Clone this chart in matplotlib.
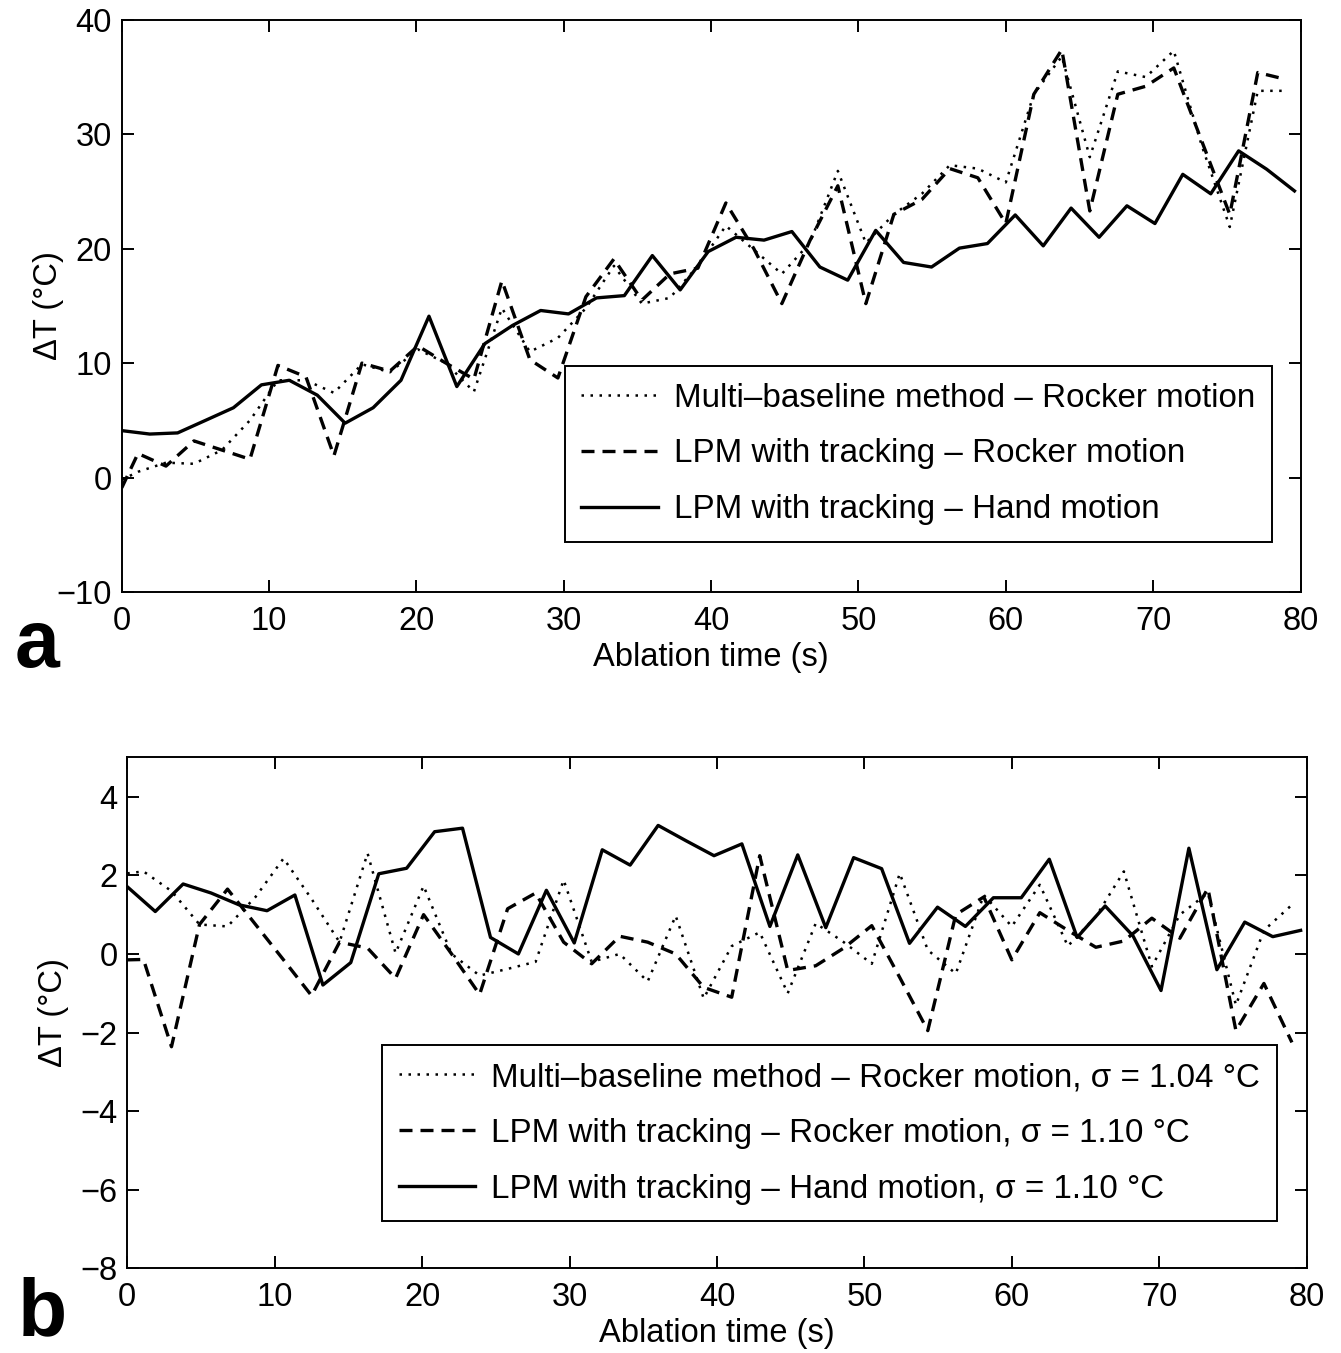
import matplotlib
matplotlib.use("Agg")
import matplotlib.pyplot as plt

plt.rcParams['font.family'] = ['Liberation Sans', 'DejaVu Sans']
plt.rcParams['axes.unicode_minus'] = True

# sample times (s)
hand_time = [0, 1.9, 3.79, 5.69, 7.58, 9.48, 11.37, 13.27, 15.16, 17.06,
             18.95, 20.85, 22.74, 24.64, 26.53, 28.43, 30.32, 32.22, 34.11, 36.01,
             37.9, 39.8, 41.69, 43.59, 45.48, 47.38, 49.27, 51.17, 53.06, 54.96,
             56.85, 58.75, 60.64, 62.54, 64.43, 66.33, 68.22, 70.12, 72.01, 73.91,
             75.8, 77.7, 79.59]
rocker_time = [0, 1.1, 3.0, 4.9, 6.8, 8.7, 10.6, 12.5, 14.4, 16.3,
               18.2, 20.1, 22.0, 23.9, 25.8, 27.7, 29.6, 31.5, 33.4, 35.3,
               37.2, 39.1, 41.0, 42.9, 44.8, 46.7, 48.6, 50.5, 52.4, 54.3,
               56.2, 58.1, 60.0, 61.9, 63.8, 65.7, 67.6, 69.5, 71.4, 73.3,
               75.2, 77.1, 79.0]

# panel a: temperature rise during ablation
multi_rocker_a = [-0.2, 0.5, 1.3, 1.2, 2.4, 5.0, 8.5, 8.5, 7.4, 9.9,
                  9.2, 11.2, 10.0, 7.5, 14.8, 11.0, 12.2, 14.8, 18.5, 15.2,
                  15.7, 18.5, 22.0, 19.9, 17.8, 20.5, 26.8, 20.5, 23.0, 24.8,
                  27.3, 27.0, 25.8, 33.5, 36.8, 28.0, 35.5, 35.0, 37.3, 29.0,
                  21.9, 33.8, 33.8]
lpm_rocker_a = [-0.9, 2.1, 1.0, 3.2, 2.4, 1.6, 9.8, 8.8, 1.9, 10.0,
                9.3, 11.5, 10.0, 8.6, 17.2, 10.3, 8.7, 15.8, 19.1, 15.5,
                17.8, 18.3, 24.0, 20.0, 15.2, 20.7, 25.5, 15.2, 23.0, 24.3,
                27.0, 26.2, 22.2, 33.5, 37.4, 23.3, 33.5, 34.2, 35.8, 29.4,
                23.0, 35.4, 34.8]
lpm_hand_a = [4.1, 3.8, 3.9, 5.0, 6.1, 8.1, 8.5, 7.2, 4.75, 6.1,
              8.5, 14.1, 7.95, 11.7, 13.3, 14.6, 14.3, 15.7, 15.9, 19.4,
              16.4, 19.75, 21.0, 20.75, 21.5, 18.4, 17.25, 21.6, 18.8, 18.4,
              20.05, 20.45, 22.95, 20.25, 23.55, 21.0, 23.75, 22.2, 26.5, 24.8,
              28.55, 26.95, 25.05]

# panel b: no heating
multi_rocker_b = [2.05, 2.1, 1.6, 0.75, 0.7, 1.45, 2.43, 1.4, 0.3, 2.56,
                  0.02, 1.73, 0.0, -0.55, -0.38, -0.2, 1.88, -0.2, 0.0, -0.7,
                  0.97, -1.13, 0.2, 0.55, -1.0, 0.78, 0.3, -0.25, 2.05, 0.1,
                  -0.5, 1.5, 0.7, 1.76, 0.2, 0.95, 2.1, -0.32, 1.0, 1.55,
                  -1.3, 0.6, 1.25]
lpm_rocker_b = [-0.15, -0.14, -2.36, 0.75, 1.65, 0.75, -0.15, -1.06, 0.3, 0.15,
                -0.62, 1.0, 0.0, -1.03, 1.15, 1.55, 0.3, -0.25, 0.45, 0.3,
                0.0, -0.85, -1.1, 2.5, -0.42, -0.3, 0.15, 0.72, -0.6, -1.95,
                1.0, 1.45, -0.15, 1.05, 0.6, 0.17, 0.33, 0.91, 0.4, 1.67,
                -1.95, -0.75, -2.25]
lpm_hand_b = [1.71, 1.08, 1.78, 1.55, 1.25, 1.1, 1.5, -0.79, -0.22, 2.04,
              2.18, 3.11, 3.2, 0.42, 0.0, 1.62, 0.28, 2.65, 2.26, 3.27,
              2.88, 2.5, 2.8, 0.7, 2.52, 0.67, 2.45, 2.17, 0.27, 1.19,
              0.7, 1.43, 1.43, 2.41, 0.42, 1.22, 0.46, -0.93, 2.69, -0.4,
              0.81, 0.44, 0.6]

labels_a = ['Multi\u2013baseline method \u2013 Rocker motion',
            'LPM with tracking \u2013 Rocker motion',
            'LPM with tracking \u2013 Hand motion']
labels_b = ['Multi\u2013baseline method \u2013 Rocker motion, \u03c3 = 1.04 \u00b0C',
            'LPM with tracking \u2013 Rocker motion, \u03c3 = 1.10 \u00b0C',
            'LPM with tracking \u2013 Hand motion, \u03c3 = 1.10 \u00b0C']

FS = 23.5
FS_LEG = 23.9
dotted = dict(color='black', lw=1.8, linestyle=(0, (1.0, 2.6)))
dashed = dict(color='black', lw=2.4, linestyle=(0, (3.9, 2.4)))
solid = dict(color='black', lw=2.4, linestyle='-')

fig = plt.figure(figsize=(13.41, 13.53), dpi=100)
ax_a = fig.add_axes([0.0908, 0.5625, 0.879, 0.4228])
ax_b = fig.add_axes([0.0949, 0.0625, 0.8795, 0.3777])


def style_axis(ax, yticks, ylim):
    ax.set_xlim(0, 80)
    ax.set_ylim(*ylim)
    ax.set_xticks(range(0, 81, 10))
    ax.set_yticks(yticks)
    ax.tick_params(direction='in', length=8.6, width=1.4, top=True, right=True,
                   labelsize=FS, colors='black')
    ax.tick_params(axis='x', pad=10)
    ax.tick_params(axis='y', pad=7)
    for sp in ax.spines.values():
        sp.set_linewidth(1.4)
        sp.set_color('black')
    ax.set_xlabel('Ablation time (s)', fontsize=FS, labelpad=3.5)
    ax.set_ylabel('\u0394T (\u00b0C)', fontsize=FS)
    ax.yaxis.set_label_coords(-0.049, 0.5)


def add_legend(ax, labels, anchor):
    leg = ax.legend(labels, loc='lower right', bbox_to_anchor=anchor,
                    borderaxespad=0, fontsize=FS_LEG, fancybox=False, framealpha=1,
                    edgecolor='black', handlelength=2.3, handletextpad=0.5,
                    labelspacing=0.75, borderpad=0.5)
    leg.get_frame().set_linewidth(1.4)


ax_a.plot(rocker_time, multi_rocker_a, **dotted)
ax_a.plot(rocker_time, lpm_rocker_a, **dashed)
ax_a.plot(hand_time, lpm_hand_a, **solid)
style_axis(ax_a, range(-10, 41, 10), (-10, 40))
add_legend(ax_a, labels_a, (0.9758, 0.0874))

ax_b.plot(rocker_time, multi_rocker_b, **dotted)
ax_b.plot(rocker_time, lpm_rocker_b, **dashed)
ax_b.plot(hand_time, lpm_hand_b, **solid)
style_axis(ax_b, range(-8, 5, 2), (-8, 5))
add_legend(ax_b, labels_b, (0.9748, 0.092))

fig.text(0.011, 0.507, 'a', fontsize=58, fontweight='bold', va='baseline')
fig.text(0.0134, 0.0133, 'b', fontsize=58, fontweight='bold', va='baseline')

fig.savefig('out.png', dpi=100)
